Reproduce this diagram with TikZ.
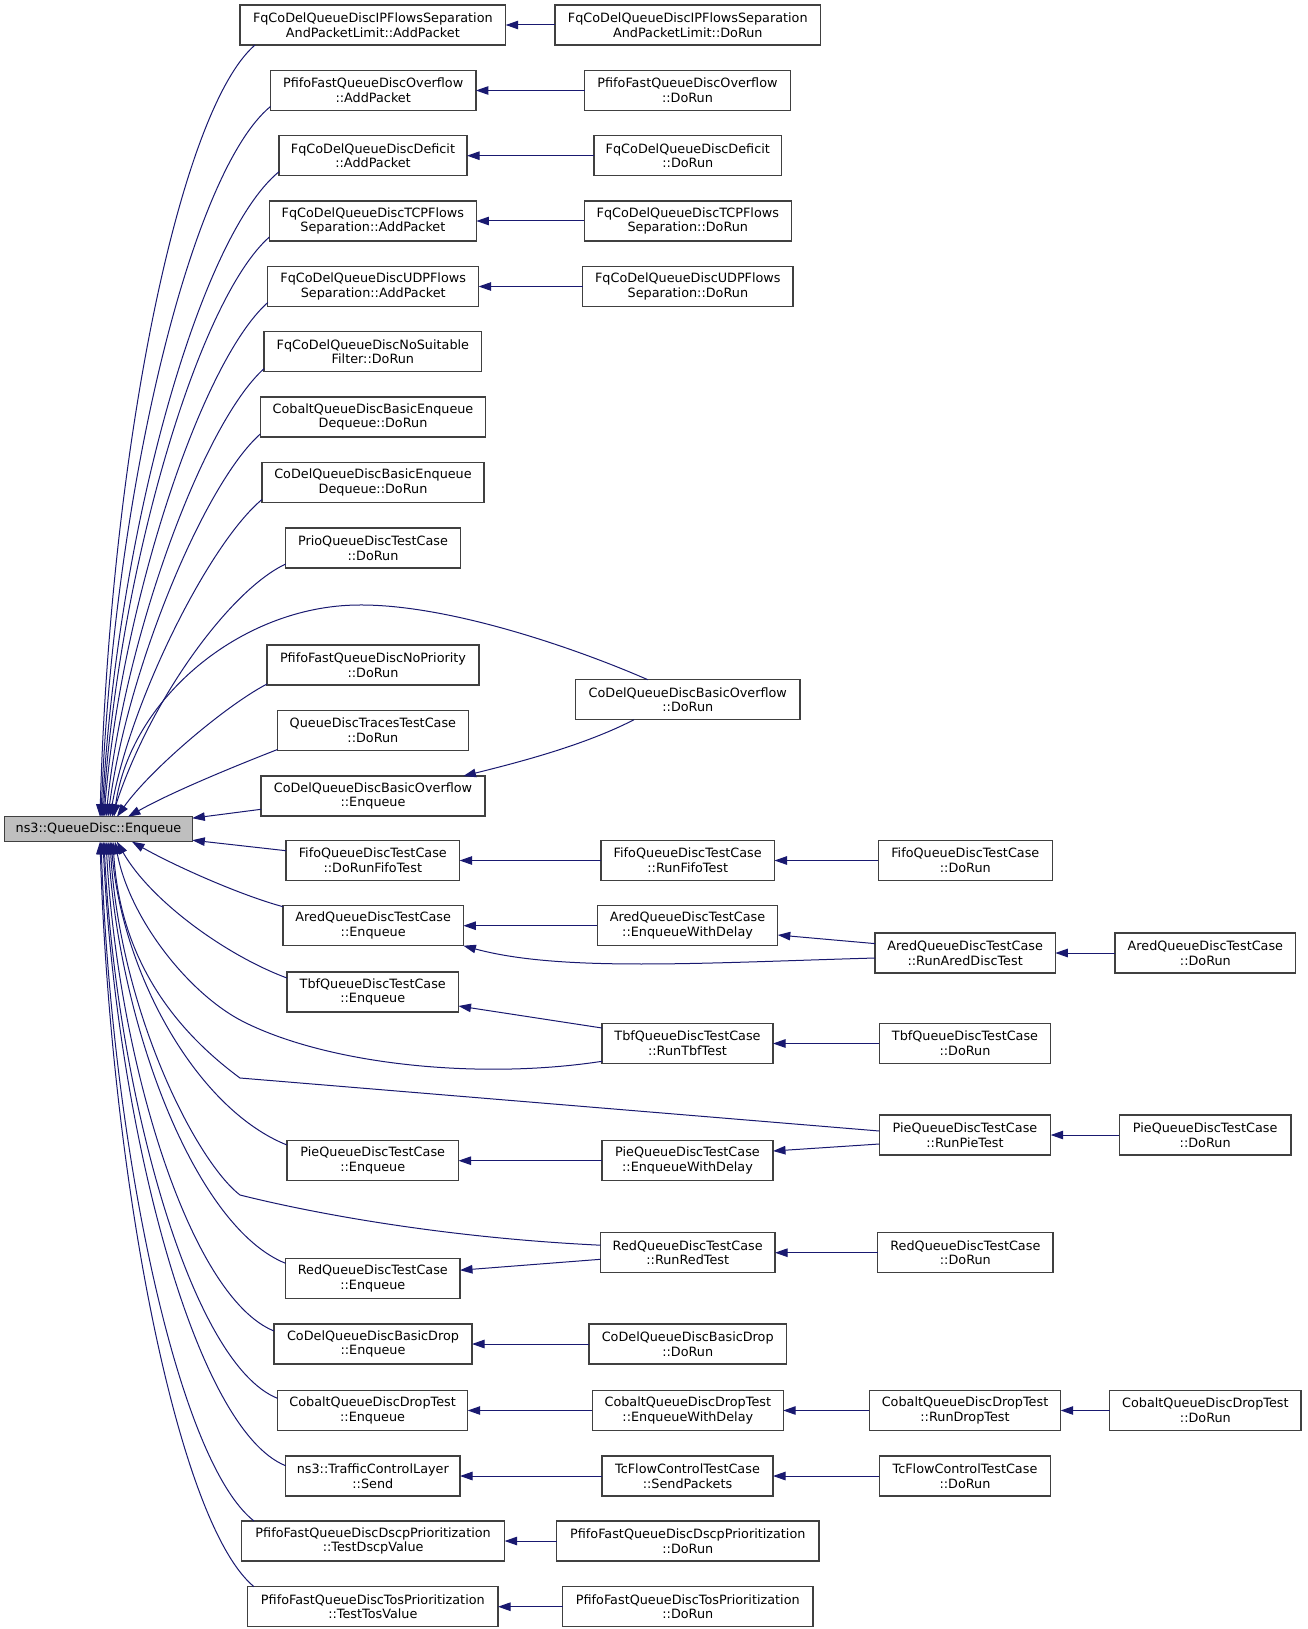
\documentclass[tikz,border=0pt]{standalone}
\usepackage{fontspec}
\setmainfont{DejaVu Sans}
\usetikzlibrary{arrows.meta}
\definecolor{navy}{HTML}{191970}
\definecolor{nodeborder}{HTML}{404040}
\definecolor{rootfill}{HTML}{BFBFBF}
\newcommand\qbox[5]{%
  \pgfmathsetmacro\qcx{(#2+#3)/2}%
  \pgfmathsetmacro\qw{#3-#2}%
  \node[qnode,minimum width=\qw pt] (#1) at (\qcx,#4) {#5};}
\begin{document}
\begin{tikzpicture}[x=1pt,y=-1pt,
  qnode/.style={draw=nodeborder,line width=1.2pt,fill=white,minimum height=40pt,
    inner xsep=3pt,inner ysep=2pt,outer sep=0pt,align=center,
    font=\fontsize{12.8}{14.8}\selectfont},
  rootnode/.style={qnode,fill=rootfill,minimum height=25pt},
  calledge/.style={draw=navy,line width=1pt,-{Triangle[length=12.5pt,width=8.5pt]}}]
\useasboundingbox (0,0) rectangle (1307,1629);
\fill[white] (0,0) rectangle (1307,1629);

% root
\node[rootnode,minimum width=187.6pt] (root) at (98.5,829.2) {ns3::QueueDisc::Enqueue};

% column 2
\qbox{a1}{240}{505.7}{25}{FqCoDelQueueDiscIPFlowsSeparation\\AndPacketLimit::AddPacket}
\qbox{a2}{270.5}{475.9}{90.5}{PfifoFastQueueDiscOverflow\\::AddPacket}
\qbox{a3}{279}{467}{155.7}{FqCoDelQueueDiscDeficit\\::AddPacket}
\qbox{a4}{269.4}{476.4}{221}{FqCoDelQueueDiscTCPFlows\\Separation::AddPacket}
\qbox{a5}{267.8}{478.6}{286.5}{FqCoDelQueueDiscUDPFlows\\Separation::AddPacket}
\qbox{a6}{264}{481.8}{351.7}{FqCoDelQueueDiscNoSuitable\\Filter::DoRun}
\qbox{a7}{260.3}{485.7}{417}{CobaltQueueDiscBasicEnqueue\\Dequeue::DoRun}
\qbox{a8}{262}{484}{482.5}{CoDelQueueDiscBasicEnqueue\\Dequeue::DoRun}
\qbox{a9}{285.7}{460.3}{548}{PrioQueueDiscTestCase\\::DoRun}
\qbox{a10}{267}{479}{665}{PfifoFastQueueDiscNoPriority\\::DoRun}
\qbox{a11}{277.5}{468.3}{730.5}{QueueDiscTracesTestCase\\::DoRun}
\qbox{a12}{261}{485}{796}{CoDelQueueDiscBasicOverflow\\::Enqueue}
\qbox{a13}{286}{459.6}{860.5}{FifoQueueDiscTestCase\\::DoRunFifoTest}
\qbox{a14}{283}{463.4}{925.7}{AredQueueDiscTestCase\\::Enqueue}
\qbox{a15}{287}{458.5}{992}{TbfQueueDiscTestCase\\::Enqueue}
\qbox{a16}{287}{458.5}{1160.7}{PieQueueDiscTestCase\\::Enqueue}
\qbox{a17}{285.6}{460}{1278.5}{RedQueueDiscTestCase\\::Enqueue}
\qbox{a18}{274}{472}{1344}{CoDelQueueDiscBasicDrop\\::Enqueue}
\qbox{a19}{277.5}{467.7}{1410.5}{CobaltQueueDiscDropTest\\::Enqueue}
\qbox{a20}{285.6}{460}{1476}{ns3::TrafficControlLayer\\::Send}
\qbox{a21}{241.7}{504.6}{1541}{PfifoFastQueueDiscDscpPrioritization\\::TestDscpValue}
\qbox{a22}{247.7}{498}{1606.7}{PfifoFastQueueDiscTosPrioritization\\::TestTosValue}

% column 3
\qbox{b1}{555}{820.6}{25}{FqCoDelQueueDiscIPFlowsSeparation\\AndPacketLimit::DoRun}
\qbox{b2}{584.8}{790.2}{90.5}{PfifoFastQueueDiscOverflow\\::DoRun}
\qbox{b3}{594}{781.6}{155.7}{FqCoDelQueueDiscDeficit\\::DoRun}
\qbox{b4}{584.3}{791.3}{221}{FqCoDelQueueDiscTCPFlows\\Separation::DoRun}
\qbox{b5}{582.7}{793}{286.5}{FqCoDelQueueDiscUDPFlows\\Separation::DoRun}
\qbox{b12}{575.6}{800}{699.7}{CoDelQueueDiscBasicOverflow\\::DoRun}
\qbox{b13}{601}{774.5}{860.5}{FifoQueueDiscTestCase\\::RunFifoTest}
\qbox{b14}{597.3}{777.8}{925.7}{AredQueueDiscTestCase\\::EnqueueWithDelay}
\qbox{b15}{602}{773}{1043.5}{TbfQueueDiscTestCase\\::RunTbfTest}
\qbox{b16}{602}{773}{1160.7}{PieQueueDiscTestCase\\::EnqueueWithDelay}
\qbox{b17}{600.5}{775}{1252.7}{RedQueueDiscTestCase\\::RunRedTest}
\qbox{b18}{589}{786.4}{1344}{CoDelQueueDiscBasicDrop\\::DoRun}
\qbox{b19}{592.4}{783.2}{1410.5}{CobaltQueueDiscDropTest\\::EnqueueWithDelay}
\qbox{b20}{602}{773}{1476}{TcFlowControlTestCase\\::SendPackets}
\qbox{b21}{556.6}{819}{1541}{PfifoFastQueueDiscDscpPrioritization\\::DoRun}
\qbox{b22}{562.6}{813}{1606.7}{PfifoFastQueueDiscTosPrioritization\\::DoRun}

% column 4
\qbox{c13}{878.3}{1052.3}{860.5}{FifoQueueDiscTestCase\\::DoRun}
\qbox{c14}{875}{1055.3}{953}{AredQueueDiscTestCase\\::RunAredDiscTest}
\qbox{c15}{879.3}{1050.7}{1043.5}{TbfQueueDiscTestCase\\::DoRun}
\qbox{c16}{879.3}{1050.7}{1135}{PieQueueDiscTestCase\\::RunPieTest}
\qbox{c17}{877.7}{1053}{1252.7}{RedQueueDiscTestCase\\::DoRun}
\qbox{c19}{869.3}{1060.7}{1410.5}{CobaltQueueDiscDropTest\\::RunDropTest}
\qbox{c20}{879.3}{1050.7}{1476}{TcFlowControlTestCase\\::DoRun}

% column 5
\qbox{d14}{1115}{1295.7}{953}{AredQueueDiscTestCase\\::DoRun}
\qbox{d16}{1119.3}{1291}{1135}{PieQueueDiscTestCase\\::DoRun}
\qbox{d19}{1109.7}{1301}{1410.5}{CobaltQueueDiscDropTest\\::DoRun}

% ---- edges into root from above
\draw[calledge] ([xshift=15pt]a1.south west) .. controls (179,110.6) and (110,454) .. ([xshift=95.3pt]root.north west);
\draw[calledge] ([yshift=4pt]a2.south west) .. controls (190.8,172) and (113.7,493.5) .. ([xshift=96.3pt]root.north west);
\draw[calledge] ([yshift=4pt]a3.south west) .. controls (199.3,237.1) and (117,533.2) .. ([xshift=97.3pt]root.north west);
\draw[calledge] ([yshift=4pt]a4.south west) .. controls (197.8,300.2) and (118.8,570.5) .. ([xshift=98.3pt]root.north west);
\draw[calledge] ([yshift=4pt]a5.south west) .. controls (200.6,362.3) and (121.2,606) .. ([xshift=99.3pt]root.north west);
\draw[calledge] ([yshift=3pt]a6.south west) .. controls (202.4,424.1) and (124.2,639.6) .. ([xshift=101.3pt]root.north west);
\draw[calledge] ([yshift=3pt]a7.south west) .. controls (203.9,484.1) and (127,671) .. ([xshift=103.3pt]root.north west);
\draw[calledge] ([yshift=3pt]a8.south west) .. controls (209,543.5) and (130.5,701) .. ([xshift=105.3pt]root.north west);
\draw[calledge] ([yshift=4pt]a9.south west) .. controls (230,590) and (150,700) .. ([xshift=107.3pt]root.north west);
\draw[calledge] ([xshift=-40pt]b12.north) .. controls (580,650) and (450,604) .. (358,605)
   .. controls (240,606) and (130,700) .. ([xshift=109.3pt]root.north west);
\draw[calledge] ([yshift=1pt]a10.south west) .. controls (225,706) and (150,770) .. ([xshift=112.3pt]root.north west);
\draw[calledge] ([yshift=1pt]a11.south west) .. controls (230,768) and (170,793) .. ([xshift=123.3pt]root.north west);
\draw[calledge] ([yshift=-13.3pt]a12.west) -- ([yshift=-1.5pt]root.north east);
\draw[calledge] ([yshift=9.8pt]a13.west) -- ([yshift=1.5pt]root.south east);

% ---- edges into root from below
\draw[calledge] ([yshift=-1pt]a14.north west) .. controls (240,895) and (175,866) .. ([xshift=127.3pt]root.south west);
\draw[calledge] ([yshift=-6pt]a15.north west) .. controls (225,955) and (150,900) .. ([xshift=112.3pt]root.south west);
\draw[calledge] ([yshift=-17.8pt]b15.west) .. controls (480,1080) and (330,1065) .. (244,1022)
   .. controls (190,995) and (130,920) .. ([xshift=110.3pt]root.south west);
\draw[calledge] ([yshift=4pt]c16.west) -- (240,1078)
   .. controls (175,1030) and (120,960) .. ([xshift=108.3pt]root.south west);
\draw[calledge] ([yshift=-4.3pt]a16.north west) .. controls (199,1110) and (123,978) .. ([xshift=106.3pt]root.south west);
\draw[calledge] ([yshift=7.5pt]b17.west) .. controls (450,1238) and (320,1215) .. (240,1195)
   .. controls (195,1160) and (120,1010) .. ([xshift=105.3pt]root.south west);
\draw[calledge] ([yshift=-4.8pt]a17.north west) .. controls (197,1228) and (120,1031) .. ([xshift=103.3pt]root.south west);
\draw[calledge] ([yshift=-7pt]a18.north west) .. controls (190,1297) and (118,1062) .. ([xshift=101.3pt]root.south west);
\draw[calledge] ([yshift=-7.8pt]a19.north west) .. controls (190.6,1363.6) and (116,1092) .. ([xshift=99.3pt]root.south west);
\draw[calledge] ([yshift=-9.7pt]a20.north west) .. controls (194.3,1429) and (115.8,1122.7) .. ([xshift=98.3pt]root.south west);
\draw[calledge] ([xshift=12.3pt]a21.north west) .. controls (177.5,1461) and (111.7,1147.5) .. ([xshift=96.3pt]root.south west);
\draw[calledge] ([xshift=6.3pt]a22.north west) .. controls (177,1523) and (110.8,1177) .. ([xshift=95.3pt]root.south west);

% ---- other edges
\draw[calledge] (b1.west) -- (a1.east);
\draw[calledge] (b2.west) -- (a2.east);
\draw[calledge] (b3.west) -- (a3.east);
\draw[calledge] (b4.west) -- (a4.east);
\draw[calledge] (b5.west) -- (a5.east);
\draw[calledge] ([xshift=-53.8pt]b12.south) .. controls (585,745) and (520,762) .. ([xshift=-21.6pt]a12.north east);
\draw[calledge] (b13.west) -- (a13.east);
\draw[calledge] (c13.west) -- (b13.east);
\draw[calledge] (b14.west) -- (a14.east);
\draw[calledge] ([yshift=9.4pt]c14.west) -- ([yshift=-9.3pt]b14.east);
\draw[calledge] ([yshift=-5pt]c14.west) .. controls (700,963) and (560,972) .. (a14.south east);
\draw[calledge] (d14.west) -- (c14.east);
\draw[calledge] ([yshift=15.5pt]b15.west) -- ([yshift=-14pt]a15.east);
\draw[calledge] (c15.west) -- (b15.east);
\draw[calledge] (b16.west) -- (a16.east);
\draw[calledge] ([yshift=-9pt]c16.west) -- ([yshift=9.7pt]b16.east);
\draw[calledge] (d16.west) -- (c16.east);
\draw[calledge] ([yshift=-6.6pt]b17.west) -- ([yshift=8.3pt]a17.east);
\draw[calledge] (c17.west) -- (b17.east);
\draw[calledge] (b18.west) -- (a18.east);
\draw[calledge] (b19.west) -- (a19.east);
\draw[calledge] (c19.west) -- (b19.east);
\draw[calledge] (d19.west) -- (c19.east);
\draw[calledge] (b20.west) -- (a20.east);
\draw[calledge] (c20.west) -- (b20.east);
\draw[calledge] (b21.west) -- (a21.east);
\draw[calledge] (b22.west) -- (a22.east);
\end{tikzpicture}
\end{document}
